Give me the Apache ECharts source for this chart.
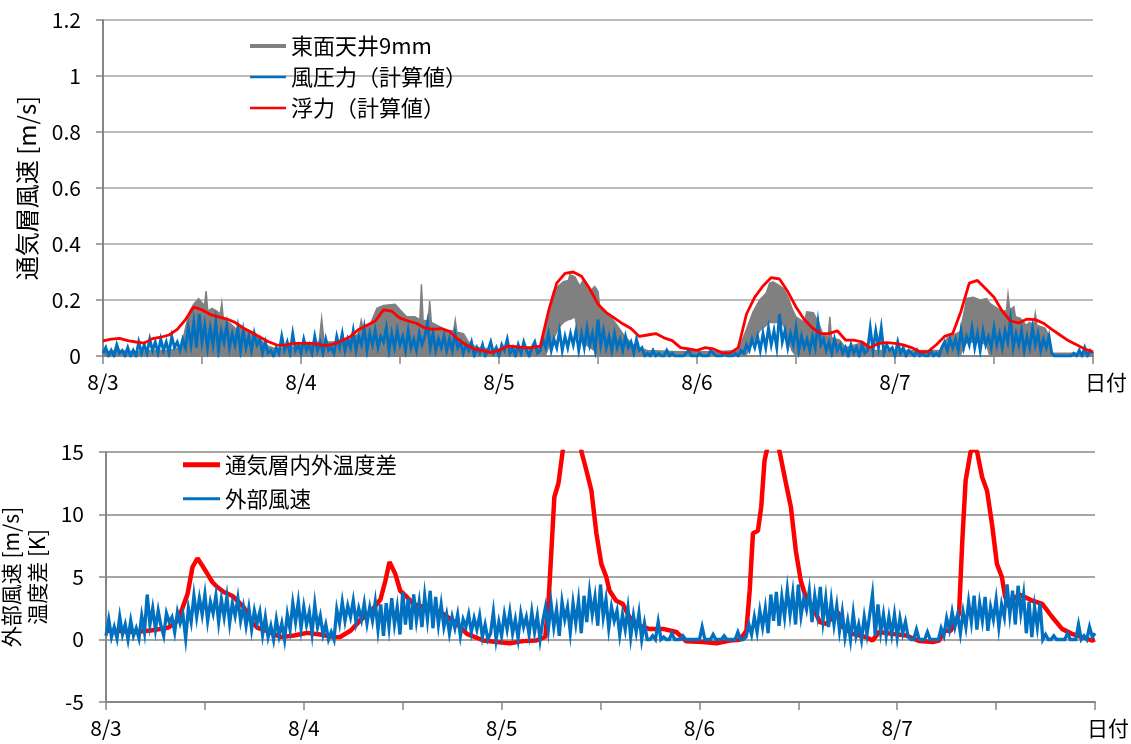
<!DOCTYPE html>
<html>
<head>
<meta charset="utf-8">
<script src="https://cdn.jsdelivr.net/npm/echarts@6/dist/echarts.min.js"></script>
<style>
  html, body { margin: 0; padding: 0; background: #ffffff; }
  #chart { width: 1131px; height: 744px; }
</style>
</head>
<body>
<div id="chart"></div>
<script>
// Time axis: hours since 8/3 0:00, five days
const dayLabels = ['8/3', '8/4', '8/5', '8/6', '8/7'];
const xAxisName = '日付';

// Upper panel: air velocity in the ventilated cavity [m/s]
const topYName = '通気層風速 [m/s]';
const nameMeasured = '東面天井9mm';
const nameWind = '風圧力（計算値）';
const nameBuoy = '浮力（計算値）';

// Measured velocity, east ceiling 9 mm: [hour, lower edge, upper edge] of the fluctuation band
const measuredBand = [
  [0,0,0.015],[2,0,0.02],[4,0,0.015],[6,0,0.02],[8,0,0.02],[9.5,0,0.03],[10,0,0.10],[10.5,0,0.16],
  [11,0,0.185],[11.6,0,0.205],[12,0,0.19],[12.3,0,0.18],[12.5,0,0.232],[12.7,0,0.16],[13.2,0,0.17],
  [13.8,0,0.16],[14.2,0,0.15],[14.4,0,0.19],[14.6,0,0.13],[15.4,0,0.117],[16,0,0.10],[16.3,0,0.08],
  [16.6,0,0.105],[17.4,0,0.093],[18.6,0,0.075],[19,0,0.06],[20,0,0.035],[21,0,0.025],[23,0,0.03],
  [24.5,0,0.045],[26.2,0,0.05],[26.5,0,0.135],[26.8,0,0.05],[28,0,0.05],[30,0,0.06],[31,0,0.08],
  [31.3,0,0.128],[31.6,0,0.09],[32.5,0,0.12],[33.2,0,0.17],[34,0,0.18],[35.4,0,0.185],[36,0,0.165],
  [36.8,0,0.14],[37.8,0,0.14],[38.4,0,0.13],[38.6,0,0.256],[38.8,0,0.128],[39.4,0,0.125],[39.6,0,0.196],
  [39.8,0,0.12],[40.8,0,0.105],[41.8,0,0.09],[42.5,0,0.09],[42.7,0,0.128],[42.9,0,0.085],[43.7,0,0.08],
  [44.3,0,0.05],[45.3,0,0.03],[47,0,0.025],[50,0,0.025],[53,0,0.03],[53.6,0,0.09],[54,0.03,0.16],
  [54.6,0.06,0.23],[55.2,0.10,0.25],[55.8,0.12,0.265],[56.4,0.13,0.27],[56.6,0.13,0.29],[57.2,0.14,0.283],
  [57.6,0.08,0.26],[57.8,0.06,0.25],[58.2,0.05,0.27],[59,0.03,0.23],[59.6,0.02,0.248],[60,0,0.23],
  [60.2,0,0.18],[61,0,0.146],[61.4,0,0.15],[61.7,0,0.134],[62.3,0,0.11],[63.1,0,0.075],[63.9,0,0.05],
  [64.7,0,0.03],[66,0,0.02],[70,0,0.015],[74,0,0.015],[77,0,0.02],[77.9,0,0.087],[78.8,0.05,0.158],
  [79.6,0.09,0.2],[80.4,0.11,0.225],[80.8,0.12,0.26],[81.2,0.12,0.265],[81.9,0.12,0.253],[82.5,0.11,0.24],
  [83.1,0.06,0.206],[83.5,0.02,0.17],[84,0,0.14],[85,0,0.12],[85.3,0,0.158],[86.1,0,0.155],[86.7,0,0.12],
  [87.3,0,0.075],[87.9,0,0.07],[88.1,0,0.14],[88.3,0,0.065],[89.3,0,0.057],[90,0,0.03],[91.8,0,0.045],
  [93.4,0,0.02],[96,0,0.02],[99,0,0.02],[101.5,0,0.02],[102.3,0,0.063],[103.9,0,0.087],[104.3,0.03,0.146],
  [104.7,0.05,0.206],[105.5,0.05,0.21],[106.3,0.05,0.2],[107.1,0.04,0.205],[107.5,0,0.188],[107.9,0,0.18],
  [108.7,0,0.164],[109.5,0,0.16],[109.7,0,0.22],[109.9,0,0.165],[110.2,0,0.17],[110.4,0,0.176],
  [110.6,0,0.14],[111.2,0,0.134],[111.9,0,0.11],[112.3,0,0.12],[112.8,0,0.11],[113,0,0.152],[113.2,0,0.11],
  [114.2,0,0.099],[114.6,0,0.075],[114.8,0,0.01],[117,0,0.01],[120,0,0.01]
];

// Velocity from wind pressure (calculated), every 20 minutes
const windDrivenVals = [
  .01,.03,.00, .02,.00,.04, .01,.02,.00, .03,.00,.02,
  .00,.05,.01, .04,.01,.06, .02,.05,.01, .06,.02,.05,
  .01,.07,.03, .05,.02,.06, .03,.10,.04, .12,.03,.15,
  .05,.11,.03, .10,.04,.12, .02,.09,.05, .11,.03,.08,
  .04,.10,.02, .09,.03,.07, .02,.08,.04, .06,.01,.05,
  .01,.02,.00, .03,.01,.07, .02,.05,.01, .08,.02,.04,
  .01,.06,.02, .04,.01,.07, .02,.05,.01, .06,.02,.03,
  .01,.07,.03, .08,.02,.06, .03,.09,.02, .07,.04,.10,
  .02,.08,.04, .09,.03,.07, .05,.10,.02, .08,.03,.09,
  .04,.07,.02, .09,.03,.06, .02,.08,.04, .07,.12,.03,
  .08,.02,.06, .03,.07,.02, .06,.02,.08, .03,.05,.01,
  .04,.02,.05, .00,.03,.01, .04,.00,.02, .05,.01,.03,
  .00,.04,.02, .06,.01,.03, .00,.04,.01, .05,.02,.00,
  .03,.05,.01, .02,.06,.03, .08,.02,.06, .03,.09,.02,
  .07,.03,.08, .04,.09,.02, .08,.03,.10, .04,.08,.02,
  .13,.04,.09, .03,.07,.02, .08,.03,.06, .02,.07,.03,
  .05,.01,.06, .02,.03,.00, .01,.00,.02, .00,.01,.00,
  .00,.02,.00, .01,.00,.00, .00,.00,.01, .02,.00,.00,
  .00,.01,.00, .00,.00,.02, .01,.00,.00, .00,.01,.00,
  .00,.00,.01, .00,.02,.01, .04,.02,.06, .03,.07,.02,
  .08,.03,.10, .04,.09,.03, .15,.05,.09, .03,.08,.04,
  .10,.02,.07, .03,.06,.02, .07,.03,.12, .04,.06,.02,
  .05,.01,.06, .02,.04,.01, .03,.00,.04, .01,.03,.00,
  .04,.01,.02, .10,.02,.09, .03,.10,.01, .04,.02,.03,
  .00,.05,.01, .03,.00,.02, .01,.00,.02, .00,.01,.00,
  .00,.02,.00, .01,.00,.03, .05,.02,.06, .03,.06,.02,
  .09,.03,.07, .04,.10,.03, .08,.02,.09, .04,.07,.03,
  .10,.04,.08, .03,.09,.05, .13,.03,.08, .04,.09,.02,
  .07,.03,.10, .04,.08,.02, .06,.03,.07, .01,.00,.00,
  .00,.00,.00, .00,.00,.01, .00,.02,.00, .03,.00,.02,
  .01
];

// Velocity from buoyancy (calculated), hourly
const buoyancyVals = [
  0.054,0.060,0.063,0.055,0.050,0.046,0.062,0.067,0.075,0.095,
  0.13,0.175,0.165,0.148,0.14,0.132,0.12,0.10,0.085,0.068,
  0.052,0.040,0.038,0.045,0.045,0.046,0.042,0.037,0.043,0.055,
  0.07,0.095,0.11,0.125,0.165,0.16,0.135,0.125,0.117,0.10,
  0.095,0.098,0.088,0.06,0.04,0.025,0.02,0.012,0.02,0.035,
  0.033,0.03,0.03,0.035,0.16,0.26,0.295,0.30,0.285,0.24,
  0.185,0.155,0.135,0.115,0.098,0.07,0.075,0.08,0.065,0.055,
  0.03,0.025,0.02,0.03,0.025,0.012,0.01,0.03,0.15,0.21,
  0.25,0.28,0.275,0.23,0.175,0.13,0.10,0.08,0.08,0.09,
  0.057,0.057,0.05,0.03,0.045,0.048,0.045,0.04,0.03,0.015,
  0.015,0.04,0.07,0.08,0.16,0.26,0.27,0.24,0.21,0.16,
  0.125,0.118,0.132,0.13,0.117,0.095,0.075,0.055,0.04,0.025,
  0.015
];

// Lower panel: outdoor wind speed [m/s] and cavity/outdoor temperature difference [K]
const bottomYName = '外部風速 [m/s]\n温度差 [K]';
const nameTempDiff = '通気層内外温度差';
const nameOutWind = '外部風速';

// Temperature difference between cavity and outdoor air: [hour, K]
const tempDiff = [
  [0,0.7],[1.8,0.67],[3.4,0.6],[5.4,0.72],[7.5,0.93],[8.5,1.4],[9.1,2.2],[9.9,3.65],[10.5,5.8],
  [11.1,6.5],[11.7,5.9],[12.3,5.25],[12.9,4.6],[13.5,4.2],[14.3,3.8],[15.3,3.5],[16.1,3.0],[16.7,2.6],
  [17.6,1.5],[18.4,0.93],[19.6,0.67],[21.2,0.19],[22.8,0.32],[24.4,0.53],[26,0.4],[27.6,0.19],[28.4,0.2],
  [29.7,0.72],[30.9,1.57],[32.1,2.2],[33.3,3.2],[33.9,4.7],[34.4,6.2],[35.1,5.25],[35.7,3.9],[36.5,3.4],
  [37.3,2.85],[38.5,2.6],[39.3,2.5],[40.9,2.05],[42.6,1.25],[43.8,0.45],[45.8,-0.08],[47.4,-0.2],
  [49,-0.3],[50.6,-0.13],[52.2,-0.08],[53.3,0.2],[53.7,3.1],[54,6.6],[54.4,11.4],[54.9,12.5],[55.2,14],
  [55.6,16],[56.2,18],[56.8,18.5],[57.3,17],[57.7,15],[58.3,13.5],[58.9,11.9],[59.5,8.5],[60.1,6.05],
  [60.7,5],[61.1,3.9],[61.9,3.1],[62.7,2.85],[63.5,1.8],[64.7,1.1],[65.9,0.85],[67.6,0.85],[69.2,0.6],
  [70.4,-0.15],[72.4,-0.2],[74.1,-0.3],[75.7,-0.08],[76.9,-0.03],[77.7,0.7],[78.1,3.9],[78.5,8.5],
  [79.1,8.7],[79.5,10.6],[79.9,14.3],[80.3,15.5],[80.9,16.5],[81.4,16],[81.8,14.8],[82.5,12.5],
  [83.1,10.6],[83.7,7.1],[84.3,4.7],[84.9,3.4],[85.8,2.6],[86.6,1.4],[87.4,1.25],[88.2,1.8],[88.8,2.2],
  [89.4,1.0],[90.6,0.45],[92.2,0.2],[93,-0.08],[93.8,0.6],[95.4,0.45],[97.1,0.32],[98.7,-0.13],
  [100.3,-0.2],[101.1,-0.08],[101.7,0.7],[102.5,0.7],[103.5,2.05],[103.9,7.9],[104.3,12.7],[104.9,15],
  [105.3,15.3],[105.7,15],[106.3,13],[106.9,11.9],[107.5,9.25],[108.1,6.05],[108.7,5],[109.1,3.4],
  [109.6,2.6],[110.2,3.3],[110.8,3.6],[111.5,3.4],[112.4,3.1],[113.6,2.85],[114.8,1.8],[116,0.85],
  [117.2,0.45],[118.4,0.2],[119.6,-0.08],[120,0]
];

// Outdoor wind speed, every 20 minutes [m/s]
const outWindVals = [
  0.3,1.6,0.2, 1.0,0.1,1.8, 0.4,1.2,0.0, 1.5,0.3,0.9,
  0.1,1.9,0.6, 3.6,1.2,2.5, 0.8,2.3,1.1, 0.3,2.1,1.4,
  1.8,0.6,2.2, 1.3,2.0,0.1, 2.5,1.4,3.5, 1.8,3.3,2.0,
  3.6,1.5,3.0, 2.1,3.5,1.4, 3.2,1.8,3.4, 1.3,2.9,1.9,
  3.3,1.5,2.6, 1.1,2.5,0.8, 2.3,1.3,2.2, 0.4,1.8,0.2,
  1.1,0.0,1.6, 0.3,1.3,0.0, 2.0,0.8,2.9, 1.4,3.0,0.9,
  2.6,1.2,2.2, 0.5,2.8,1.0, 1.9,0.4,1.2, 0.0,0.6,0.0,
  2.4,1.3,3.0, 1.5,2.7,1.8, 3.1,1.4,2.5, 1.6,2.9,1.3,
  2.6,1.5,3.0, 0.8,2.8,0.3, 2.9,1.0,3.3, 1.2,2.6,0.4,
  3.8,1.2,3.3, 0.8,3.6,1.5, 3.0,1.0,3.5, 1.6,3.9,0.9,
  3.4,1.2,2.8, 1.0,2.0,0.5, 1.8,0.9,2.0, 0.3,1.6,1.0,
  2.0,0.6,1.7, 0.8,1.9,0.2, 1.2,0.0,0.5, 2.2,0.0,1.4,
  0.3,2.0,0.8, 2.2,0.5,1.6, 0.1,2.1,1.0, 1.8,0.4,2.2,
  0.6,1.9,0.0, 1.5,2.6,0.8, 2.9,1.0,2.4, 0.3,3.0,1.6,
  2.6,0.6,2.9, 1.3,3.1,0.5, 3.5,1.4,3.8, 2.0,3.4,1.1,
  4.4,1.8,3.2, 0.9,2.6,1.5, 2.3,0.4,2.0, 0.8,2.5,0.2,
  1.9,0.6,2.1, 0.0,1.3,0.0, 0.0,0.3,0.0, 1.4,0.0,0.2,
  0.0,0.0,0.5, 0.0,0.0,0.0, 0.3,0.0,0.0, 0.0,0.0,0.0,
  0.0,1.0,0.0, 0.0,0.0,0.4, 0.0,0.0,0.0, 0.3,0.0,0.0,
  0.0,0.0,0.6, 0.0,0.0,0.2, 1.2,0.4,1.8, 0.6,2.3,1.0,
  2.5,0.5,3.6, 1.5,3.8,1.1, 3.4,1.8,4.0, 2.0,3.7,1.2,
  4.4,1.9,3.3, 2.4,3.9,1.4, 3.5,2.0,4.2, 1.5,3.3,1.0,
  3.1,1.2,2.7, 0.7,2.2,0.2, 1.5,0.0,2.1, 0.3,1.2,0.0,
  1.8,0.4,2.0, 3.6,0.3,2.8, 0.6,2.0,0.3, 1.8,0.4,2.0,
  0.2,1.7,0.5, 1.4,0.2,0.0, 0.0,0.8,0.0, 0.0,0.0,0.6,
  0.0,0.0,0.0, 0.0,0.9,0.3, 1.7,0.8,2.2, 1.0,2.0,0.5,
  2.2,1.0,3.0, 1.4,3.5,0.8, 2.9,1.5,3.4, 0.7,2.6,1.6,
  3.2,1.0,2.8, 1.8,4.4,2.0, 3.9,1.2,4.3, 2.1,3.6,0.5,
  3.0,0.2,2.6, 1.0,2.9,0.0, 0.4,0.0,0.0, 0.3,0.0,0.0,
  0.0,0.0,0.5, 0.0,0.0,0.0, 1.2,0.0,0.3, 0.0,1.0,0.2,
  0.5
];

// ---- build series data ----
const SAMPLES_PER_HOUR = 3;
const windDrivenData = windDrivenVals.map((v, i) => [i / SAMPLES_PER_HOUR, v]);
const outWindData = outWindVals.map((v, i) => [i / SAMPLES_PER_HOUR, v]);
const buoyancyData = buoyancyVals.map((v, i) => [i, v]);

const FONT = '"Noto Sans CJK JP", "Noto Sans", sans-serif';
const AXIS_GRAY = '#868686';
const GRID_GRAY = '#a6a6a6';
const RED = '#ff0000';
const BLUE = '#0070c0';
const GRAY = '#808080';

function xAxisFor(gridIndex, onZero) {
  return {
    type: 'value', gridIndex: gridIndex, min: 0, max: 120, interval: 12,
    name: xAxisName, nameLocation: 'end', nameGap: -8,
    nameTextStyle: { fontFamily: FONT, fontSize: 21, color: '#000', verticalAlign: 'top', padding: [16, 0, 0, 0] },
    axisLine: { show: true, onZero: onZero, lineStyle: { color: AXIS_GRAY, width: 2 } },
    axisTick: { show: true, length: 8, lineStyle: { color: AXIS_GRAY, width: 1.5 } },
    splitLine: { show: false },
    axisLabel: {
      margin: 16, fontFamily: FONT, fontSize: 21, color: '#000',
      alignMinLabel: 'center', alignMaxLabel: 'center',
      formatter: v => (v % 24 === 0 && v < 120) ? dayLabels[v / 24] : ''
    }
  };
}

const chart = echarts.init(document.getElementById('chart'), null, { renderer: 'canvas' });

const legendCommon = {
  orient: 'horizontal', padding: 0, selectedMode: false,
  textStyle: { fontFamily: FONT, fontSize: 22, color: '#000' }
};

chart.setOption({
  animation: false,
  backgroundColor: '#ffffff',
  grid: [
    { left: 103, right: 38, top: 20, height: 336, containLabel: false, outerBoundsMode: 'none' },
    { left: 106, right: 36, top: 452, height: 250, containLabel: false, outerBoundsMode: 'none' }
  ],
  xAxis: [ xAxisFor(0, true), xAxisFor(1, false) ],
  yAxis: [
    {
      type: 'value', gridIndex: 0, min: 0, max: 1.2, interval: 0.2,
      name: topYName, nameLocation: 'middle', nameGap: 64,
      nameTextStyle: { fontFamily: FONT, fontSize: 24, color: '#000' },
      axisLine: { show: true, lineStyle: { color: AXIS_GRAY, width: 2 } },
      axisTick: { show: true, length: 7, lineStyle: { color: AXIS_GRAY, width: 1.5 } },
      splitLine: { show: true, lineStyle: { color: GRID_GRAY, width: 1.5 } },
      axisLabel: { margin: 22, fontFamily: FONT, fontSize: 21, color: '#000' }
    },
    {
      type: 'value', gridIndex: 1, min: -5, max: 15, interval: 5,
      name: bottomYName, nameLocation: 'middle', nameGap: 52,
      nameTextStyle: { fontFamily: FONT, fontSize: 21, color: '#000', lineHeight: 26 },
      axisLine: { show: true, lineStyle: { color: AXIS_GRAY, width: 2 } },
      axisTick: { show: true, length: 7, lineStyle: { color: AXIS_GRAY, width: 1.5 } },
      splitLine: { show: true, lineStyle: { color: GRID_GRAY, width: 2 } },
      axisLabel: { margin: 22, fontFamily: FONT, fontSize: 21, color: '#000' }
    }
  ],
  legend: [
    Object.assign({}, legendCommon, { left: 250, top: 35, itemWidth: 36, itemHeight: 4, data: [{ name: nameMeasured, icon: 'rect' }] }),
    Object.assign({}, legendCommon, { left: 250, top: 66, itemWidth: 36, itemHeight: 2.5, data: [{ name: nameWind, icon: 'rect' }] }),
    Object.assign({}, legendCommon, { left: 250, top: 97, itemWidth: 36, itemHeight: 2.5, data: [{ name: nameBuoy, icon: 'rect' }] }),
    Object.assign({}, legendCommon, { left: 183, top: 454, itemWidth: 37, itemHeight: 5, textStyle: { fontFamily: FONT, fontSize: 21.5, color: '#000' }, data: [{ name: nameTempDiff, icon: 'rect' }] }),
    Object.assign({}, legendCommon, { left: 183, top: 488, itemWidth: 37, itemHeight: 3, textStyle: { fontFamily: FONT, fontSize: 21.5, color: '#000' }, data: [{ name: nameOutWind, icon: 'rect' }] })
  ],
  series: [
    {
      // fluctuation band of the measured cavity velocity
      name: nameMeasured, type: 'custom', xAxisIndex: 0, yAxisIndex: 0,
      itemStyle: { color: GRAY }, silent: true, z: 1,
      encode: { x: 0, y: [1, 2] },
      data: measuredBand,
      renderItem: function (params, api) {
        if (params.dataIndex !== 0) return null;
        const upper = measuredBand.map(r => api.coord([r[0], r[2]]));
        const lower = measuredBand.map(r => api.coord([r[0], r[1]])).reverse();
        return {
          type: 'polygon',
          shape: { points: upper.concat(lower) },
          style: { fill: GRAY, stroke: GRAY, lineWidth: 1.5, lineJoin: 'miter' }
        };
      }
    },
    {
      name: nameWind, type: 'line', xAxisIndex: 0, yAxisIndex: 0, z: 2,
      data: windDrivenData, symbol: 'none', sampling: null,
      itemStyle: { color: BLUE }, lineStyle: { color: BLUE, width: 2.9, join: 'miter' }
    },
    {
      name: nameBuoy, type: 'line', xAxisIndex: 0, yAxisIndex: 0, z: 3,
      data: buoyancyData, symbol: 'none',
      itemStyle: { color: RED }, lineStyle: { color: RED, width: 2.8 }
    },
    {
      name: nameTempDiff, type: 'line', xAxisIndex: 1, yAxisIndex: 1, z: 2,
      data: tempDiff, symbol: 'none', clip: true,
      itemStyle: { color: RED }, lineStyle: { color: RED, width: 4.5 }
    },
    {
      name: nameOutWind, type: 'line', xAxisIndex: 1, yAxisIndex: 1, z: 3,
      data: outWindData, symbol: 'none', sampling: null,
      itemStyle: { color: BLUE }, lineStyle: { color: BLUE, width: 3.3, join: 'miter' }
    }
  ]
});
</script>
</body>
</html>
